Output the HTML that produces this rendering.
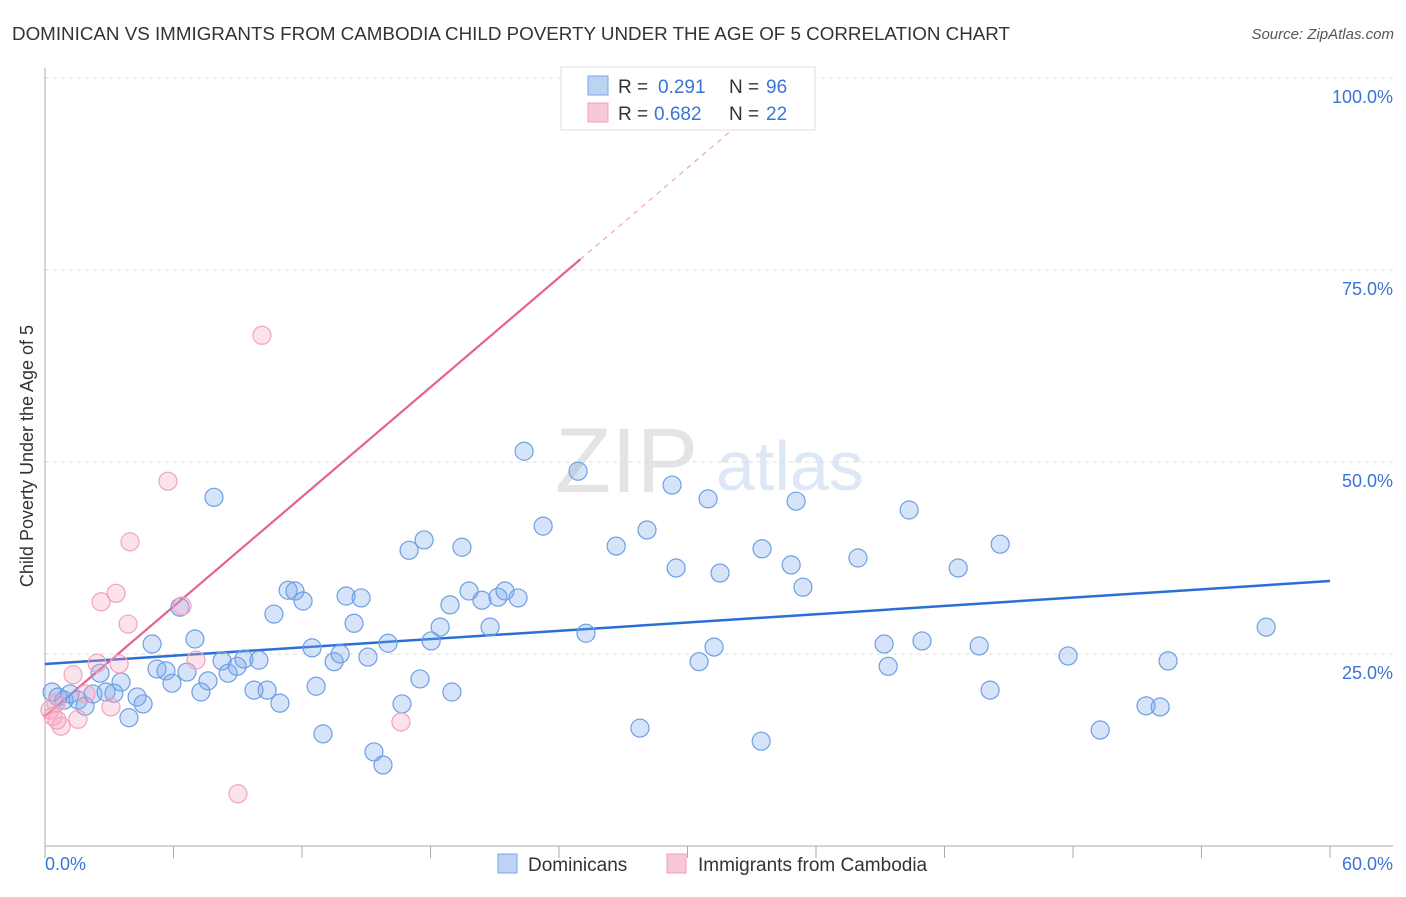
<!DOCTYPE html>
<html><head><meta charset="utf-8"><style>
body{margin:0;background:#fff;font-family:"Liberation Sans",sans-serif;}
svg text{font-family:"Liberation Sans",sans-serif;}
</style></head><body>
<svg id="chart" width="1406" height="892" xmlns="http://www.w3.org/2000/svg">
<text x="12" y="40" font-size="18" fill="#333" textLength="998" lengthAdjust="spacingAndGlyphs">DOMINICAN VS IMMIGRANTS FROM CAMBODIA CHILD POVERTY UNDER THE AGE OF 5 CORRELATION CHART</text>
<text x="1394" y="39" font-size="15" fill="#555" text-anchor="end" font-style="italic">Source: ZipAtlas.com</text>
<text x="555" y="492" font-size="92" fill="#e4e4e4" font-family="Liberation Serif">ZIP</text>
<text x="716" y="490" font-size="70" fill="#dde8f6">atlas</text>
<g id="grid"></g>
<g id="lines"></g>
<g id="pts"></g>
<text transform="translate(33,456) rotate(-90)" font-size="18" fill="#333" text-anchor="middle">Child Poverty Under the Age of 5</text>
<g>
<rect x="561" y="67" width="254" height="63" fill="#fff" stroke="#ddd"/>
<rect x="588" y="76" width="20" height="19" fill="#bcd3f3" stroke="#7aa6e6"/>
<text x="618" y="93" font-size="19" fill="#333">R =</text>
<text x="658" y="93" font-size="19" fill="#3a74d8">0.291</text>
<text x="729" y="93" font-size="19" fill="#333">N =</text>
<text x="766" y="93" font-size="19" fill="#3a74d8">96</text>
<rect x="588" y="103" width="20" height="19" fill="#f8c8d6" stroke="#eea0b8"/>
<text x="618" y="120" font-size="19" fill="#333">R =</text>
<text x="654" y="120" font-size="19" fill="#3a74d8">0.682</text>
<text x="729" y="120" font-size="19" fill="#333">N =</text>
<text x="766" y="120" font-size="19" fill="#3a74d8">22</text>
</g>
<g>
<rect x="498" y="854" width="19" height="19" fill="#bcd3f3" stroke="#7aa6e6"/>
<text x="528" y="871" font-size="19" fill="#333">Dominicans</text>
<rect x="667" y="854" width="19" height="19" fill="#f8c8d6" stroke="#eea0b8"/>
<text x="698" y="871" font-size="19" fill="#333">Immigrants from Cambodia</text>
</g>
</svg>
<script>
const blueX=[0.33,0.61,0.89,1.17,1.54,1.87,2.24,2.57,2.85,3.22,3.55,3.92,4.30,4.58,5.0,5.23,5.65,5.93,6.3,6.63,7.0,7.28,7.61,7.89,8.27,8.55,8.97,9.29,9.76,9.99,10.37,10.69,10.97,11.35,11.67,12.05,12.47,12.66,12.98,13.5,13.78,14.06,14.43,14.76,15.08,15.36,15.78,16.02,16.67,17.0,17.51,17.7,18.03,18.45,18.91,19.0,19.47,19.8,20.4,20.78,21.15,21.48,22.09,22.37,23.26,24.89,25.26,26.67,27.78,28.11,29.28,29.47,30.54,30.96,31.24,31.52,33.44,33.48,34.84,35.07,35.39,37.96,39.18,39.37,40.35,40.95,42.64,43.62,44.13,44.6,47.77,49.27,51.41,52.07,52.44,57.02];
const blueY=[20.05,19.4,19.0,19.8,19.0,18.2,19.8,22.5,20.05,19.9,21.35,16.7,19.4,18.5,26.3,23.05,22.8,21.2,31.1,22.65,26.95,20.05,21.5,45.4,24.1,22.5,23.4,24.35,20.3,24.2,20.3,30.2,18.6,33.3,33.2,31.9,25.8,20.8,14.6,24.0,25.0,32.55,29.0,32.3,24.6,12.25,10.55,26.4,18.5,38.5,21.75,39.85,26.7,28.5,31.4,20.05,38.9,33.2,32.0,28.5,32.4,33.2,32.3,51.4,41.65,48.8,27.7,39.05,15.35,41.15,47.0,36.2,24.0,45.2,25.9,35.55,13.65,38.7,36.6,44.9,33.7,37.5,26.3,23.4,43.75,26.7,36.2,26.05,20.3,39.3,24.75,15.1,18.25,18.1,24.1,28.5];
const pinkX=[0.23,0.37,0.56,0.75,1.31,1.54,1.91,2.43,2.62,3.08,3.32,3.46,3.88,3.97,5.74,6.4,7.05,9.01,10.13,16.62,24.6,0.51];
const pinkY=[17.7,16.9,16.4,15.6,22.3,16.5,19.8,23.8,31.8,18.1,32.9,23.7,28.9,39.6,47.5,31.25,24.2,6.8,66.5,16.15,99.9,18.6];
const blueTrend=[23.7,34.5];
const pinkTrend=[16.9,2.38]; // intercept, slope
const yTicks=[25,50,75,100];
const xTickVals=[0,6,12,18,24,30,36,42,48,54,60];
const NS="http://www.w3.org/2000/svg";
const sx=v=>45+v*1285/60, sy=v=>846-v*7.68;
function mk(tag,attrs,parent){const e=document.createElementNS(NS,tag);for(const k in attrs)e.setAttribute(k,attrs[k]);parent.appendChild(e);return e;}
const grid=document.getElementById('grid'),lines=document.getElementById('lines'),pts=document.getElementById('pts');
yTicks.forEach(t=>{
 const l=mk('line',{x1:45,x2:1393,y1:sy(t),y2:sy(t),stroke:'#ddd','stroke-dasharray':'4,4'},grid);
 
 
 const tx=mk('text',{x:1393,y:sy(t)+25,'font-size':18,fill:'#3a74d8','text-anchor':'end'},grid);
 tx.textContent=t.toFixed(1)+'%';
 
 
});
const ya=mk('line',{x1:45,x2:45,y1:68,y2:846,stroke:'#aaa'},grid);


const xa=mk('line',{x1:45,x2:1393,y1:846,y2:846,stroke:'#aaa'},grid);


xTickVals.forEach(t=>{
 const l=mk('line',{x1:sx(t),x2:sx(t),y1:846,y2:858,stroke:'#aaa'},grid);
 
 
});
const xl0=mk('text',{x:45,y:870,'font-size':18,fill:'#3a74d8'},grid);xl0.textContent='0.0%';


const xl1=mk('text',{x:1393,y:870,'font-size':18,fill:'#3a74d8','text-anchor':'end'},grid);xl1.textContent='60.0%';


for(let i=0;i<blueX.length;i++){
 const c=mk('circle',{cx:sx(blueX[i]),cy:sy(blueY[i]),r:9,fill:'rgba(120,165,235,0.3)',stroke:'#6e9fe3','stroke-width':1.2},pts);
 
 
}
for(let i=0;i<pinkX.length;i++){
 const c=mk('circle',{cx:sx(pinkX[i]),cy:sy(pinkY[i]),r:9,fill:'rgba(245,160,190,0.3)',stroke:'#f0a4bc','stroke-width':1.2},pts);
 
 
}
const bl=mk('line',{x1:sx(0),y1:sy(blueTrend[0]),x2:sx(60),y2:sy(blueTrend[1]),stroke:'#2a6fd6','stroke-width':2.5},lines);


const xEnd=25.0, xTop=(100-pinkTrend[0])/pinkTrend[1];
const pl=mk('line',{x1:sx(0),y1:sy(pinkTrend[0]),x2:sx(xEnd),y2:sy(pinkTrend[0]+pinkTrend[1]*xEnd),stroke:'#e8608e','stroke-width':2.2},lines);


const pd=mk('line',{x1:sx(xEnd),y1:sy(pinkTrend[0]+pinkTrend[1]*xEnd),x2:sx(xTop),y2:sy(100),stroke:'#f0a4bc','stroke-width':1.2,'stroke-dasharray':'5,5'},lines);


</script>
</body></html>
